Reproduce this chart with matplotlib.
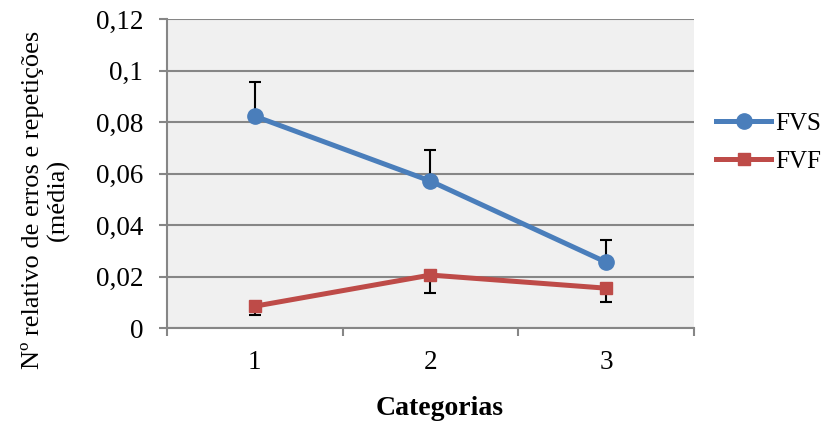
import matplotlib.pyplot as plt
from matplotlib.ticker import FixedLocator

plt.rcParams['font.family'] = ['Liberation Serif', 'DejaVu Serif']

categories = [1, 2, 3]
fvs = [0.0823, 0.0571, 0.0256]
fvs_err_up = [0.0132, 0.0120, 0.0086]
fvf = [0.0085, 0.0206, 0.0155]
fvf_err_down = [0.0035, 0.0070, 0.0054]
y_ticks = [0, 0.02, 0.04, 0.06, 0.08, 0.1, 0.12]
y_labels = ['0', '0,02', '0,04', '0,06', '0,08', '0,1', '0,12']

blue = '#4a7ebb'
red = '#be4b48'
grid = '#868686'

fig = plt.figure(figsize=(8.25, 4.25), dpi=100)
ax = fig.add_axes([0.2024, 0.228, 0.6388, 0.727])
ax.set_facecolor('#f0f0f0')

ax.errorbar(categories, fvs, yerr=[[0, 0, 0], fvs_err_up], fmt='none',
            ecolor='black', elinewidth=1.5, capsize=4.5, capthick=1.5, zorder=2)
ax.errorbar(categories, fvf, yerr=[fvf_err_down, [0, 0, 0]], fmt='none',
            ecolor='black', elinewidth=1.5, capsize=4.5, capthick=1.5, zorder=2)
ax.plot(categories, fvs, color=blue, lw=3.6, marker='o', ms=11, label='FVS', zorder=3)
ax.plot(categories, fvf, color=red, lw=3.6, marker='s', ms=9, label='FVF', zorder=3)

ax.set_xlim(0.5, 3.5)
ax.set_ylim(0, 0.12)
ax.set_yticks(y_ticks)
ax.set_yticklabels(y_labels)
ax.set_xticks(categories)
ax.set_xticklabels([str(c) for c in categories])
ax.xaxis.set_minor_locator(FixedLocator([0.5, 1.5, 2.5, 3.5]))
ax.tick_params(axis='x', which='major', length=0, pad=16, labelsize=19.5)
ax.tick_params(axis='x', which='minor', length=6, width=1.5, color=grid)
ax.tick_params(axis='y', length=6, width=1.5, color=grid, labelsize=19.5, pad=11)

ax.grid(axis='y', color=grid, lw=1.5)
ax.set_axisbelow(True)
for s in ['top', 'right']:
    ax.spines[s].set_visible(False)
for s in ['left', 'bottom']:
    ax.spines[s].set_color(grid)
    ax.spines[s].set_linewidth(1.5)

ax.set_xlabel('Categorias', fontsize=20, fontweight='bold')
ax.xaxis.set_label_coords(0.518, -0.22)
ax.set_ylabel('Nº relativo de erros e repetições\n(média)', fontsize=19,
              linespacing=1.15)
ax.yaxis.set_label_coords(-0.184, 0.414)

ax.legend(loc='center left', bbox_to_anchor=(1.0, 0.6), frameon=False,
          fontsize=18, handlelength=2.2, handletextpad=0.15, labelspacing=0.6)

fig.savefig('out.png', dpi=100)
